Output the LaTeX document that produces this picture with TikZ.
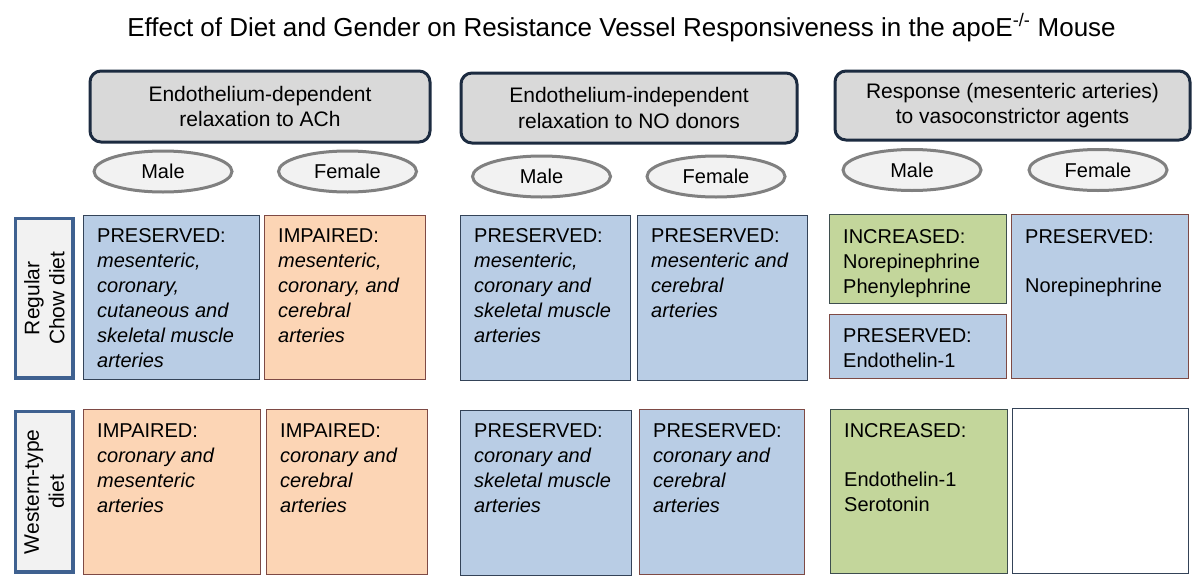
\documentclass[tikz,border=0pt]{standalone}
\usepackage{fontspec}
\setmainfont{Liberation Sans}
\usetikzlibrary{shapes.geometric}
\definecolor{hdrline}{HTML}{1C2B40}
\definecolor{hdrfill}{HTML}{D9D9D9}
\definecolor{ellline}{HTML}{808080}
\definecolor{ellfill}{HTML}{F2F2F2}
\definecolor{labline}{HTML}{3F6190}
\definecolor{bluefill}{HTML}{B9CDE5}
\definecolor{orangefill}{HTML}{FCD5B5}
\definecolor{greenfill}{HTML}{C3D69B}
\definecolor{navyline}{HTML}{344358}
\definecolor{brownline}{HTML}{7E4A45}
\definecolor{greenline}{HTML}{3E4E4E}
\newcommand\celltext[1]{\parbox[t]{200pt}{\raggedright #1}}
\begin{document}
\begin{tikzpicture}[x=1pt,y=-1pt,
 hdr/.style={draw=hdrline,line width=3pt,fill=hdrfill,rounded corners=11pt,anchor=north west,inner sep=0pt,align=center,font=\fontsize{21}{25.5}\selectfont},
 sex/.style={ellipse,draw=ellline,line width=3pt,fill=ellfill,minimum width=138pt,minimum height=41pt,inner sep=0pt,font=\fontsize{20}{24}\selectfont},
 lab/.style={draw=labline,line width=3.5pt,fill=ellfill,anchor=north west,inner sep=0pt},
 labtxt/.style={rotate=90,align=center,inner sep=0pt,font=\fontsize{21}{25}\selectfont},
 cell/.style={line width=1.3pt,anchor=north west,inner sep=0pt},
 bluecell/.style={cell,fill=bluefill,draw=navyline},
 bluecellb/.style={cell,fill=bluefill,draw=brownline},
 orangecell/.style={cell,fill=orangefill,draw=brownline},
 greencell/.style={cell,fill=greenfill,draw=greenline},
 whitecell/.style={cell,fill=white,draw=navyline},
 txt/.style={anchor=base west,inner sep=0pt,font=\fontsize{20}{25}\selectfont},
]
\useasboundingbox (0,0) rectangle (1200,581);
\fill[white] (0,0) rectangle (1200,581);

% title
\node[anchor=base,inner sep=0pt,font=\fontsize{26}{30}\selectfont] (title) at (621.5,36)
  {Effect of Diet and Gender on Resistance Vessel Responsiveness in the apoE\textsuperscript{-/-} Mouse};

% headers
\node[hdr,minimum width=340pt,minimum height=71pt] (h1) at (88.5,69.5) {Endothelium-dependent\\relaxation to ACh};
\node[hdr,minimum width=336pt,minimum height=70pt] (h2) at (459.5,71.5) {Endothelium-independent\\relaxation to NO donors};
\node[hdr,minimum width=355pt,minimum height=69pt] (h3) at (833.5,69.5) {Response (mesenteric arteries)\\to vasoconstrictor agents};

% sex ellipses
\node[sex] (m1) at (163,171.5) {Male};
\node[sex] (f1) at (347.5,171.5) {Female};
\node[sex] (m2) at (541.5,176.5) {Male};
\node[sex] (f2) at (716,176.5) {Female};
\node[sex] (m3) at (912,170) {Male};
\node[sex] (f3) at (1098,170) {Female};

% diet labels
\node[lab,minimum width=57.5pt,minimum height=159.5pt] (l1) at (13.75,216.75) {};
\node[labtxt] (l1t) at (l1.center) {Regular\\Chow diet};
\node[lab,minimum width=57.5pt,minimum height=160.5pt] (l2) at (13.75,409.75) {};
\node[labtxt] (l2t) at (l2.center) {Western-type\\diet};

% row 1 cells
\node[bluecell,minimum width=176pt,minimum height=164pt] (c11) at (83,215) {};
\node[orangecell,minimum width=161pt,minimum height=164pt] (c12) at (264,215) {};
\node[bluecell,minimum width=170pt,minimum height=165pt] (c13) at (460,215) {};
\node[bluecell,minimum width=170pt,minimum height=165pt] (c14) at (637,215) {};
\node[greencell,minimum width=177pt,minimum height=89pt] (c15a) at (829,214) {};
\node[bluecellb,minimum width=177pt,minimum height=64pt] (c15b) at (829,314) {};
\node[bluecellb,minimum width=177pt,minimum height=164pt] (c16) at (1011,214) {};

% row 2 cells
\node[orangecell,minimum width=177pt,minimum height=165pt] (c21) at (83,409) {};
\node[orangecell,minimum width=161pt,minimum height=165pt] (c22) at (266,409) {};
\node[bluecell,minimum width=171pt,minimum height=165pt] (c23) at (460,410) {};
\node[bluecellb,minimum width=165pt,minimum height=165pt] (c24) at (639,409) {};
\node[greencell,minimum width=177pt,minimum height=164pt] (c25) at (830,409) {};
\node[whitecell,minimum width=176pt,minimum height=165pt] (c26) at (1012,408) {};

% row 1 texts
\node[txt] (t11) at ([xshift=14pt,yshift=-27pt]c11.north west)
  {\celltext{PRESERVED:\\ \textit{mesenteric,}\\ \textit{coronary,}\\ \textit{cutaneous and}\\ \textit{skeletal muscle}\\ \textit{arteries}}};
\node[txt] (t12) at ([xshift=14pt,yshift=-27pt]c12.north west)
  {\celltext{IMPAIRED:\\ \textit{mesenteric,}\\ \textit{coronary, and}\\ \textit{cerebral}\\ \textit{arteries}}};
\node[txt] (t13) at ([xshift=14pt,yshift=-27pt]c13.north west)
  {\celltext{PRESERVED:\\ \textit{mesenteric,}\\ \textit{coronary and}\\ \textit{skeletal muscle}\\ \textit{arteries}}};
\node[txt] (t14) at ([xshift=14pt,yshift=-27pt]c14.north west)
  {\celltext{PRESERVED:\\ \textit{mesenteric and}\\ \textit{cerebral}\\ \textit{arteries}}};
\node[txt] (t15a) at ([xshift=14pt,yshift=-29pt]c15a.north west)
  {\celltext{INCREASED:\\ Norepinephrine\\ Phenylephrine}};
\node[txt] (t15b) at ([xshift=14pt,yshift=-28pt]c15b.north west)
  {\celltext{PRESERVED:\\ Endothelin-1}};
\node[txt] (t16) at ([xshift=14pt,yshift=-29pt]c16.north west)
  {\celltext{PRESERVED:\\[24.5pt] Norepinephrine}};

% row 2 texts
\node[txt] (t21) at ([xshift=14pt,yshift=-28pt]c21.north west)
  {\celltext{IMPAIRED:\\ \textit{coronary and}\\ \textit{mesenteric}\\ \textit{arteries}}};
\node[txt] (t22) at ([xshift=14pt,yshift=-28pt]c22.north west)
  {\celltext{IMPAIRED:\\ \textit{coronary and}\\ \textit{cerebral}\\ \textit{arteries}}};
\node[txt] (t23) at ([xshift=14pt,yshift=-27pt]c23.north west)
  {\celltext{PRESERVED:\\ \textit{coronary and}\\ \textit{skeletal muscle}\\ \textit{arteries}}};
\node[txt] (t24) at ([xshift=14pt,yshift=-28pt]c24.north west)
  {\celltext{PRESERVED:\\ \textit{coronary and}\\ \textit{cerebral}\\ \textit{arteries}}};
\node[txt] (t25) at ([xshift=14pt,yshift=-28pt]c25.north west)
  {\celltext{INCREASED:\\[24pt] Endothelin-1\\ Serotonin}};
\end{tikzpicture}
\end{document}
